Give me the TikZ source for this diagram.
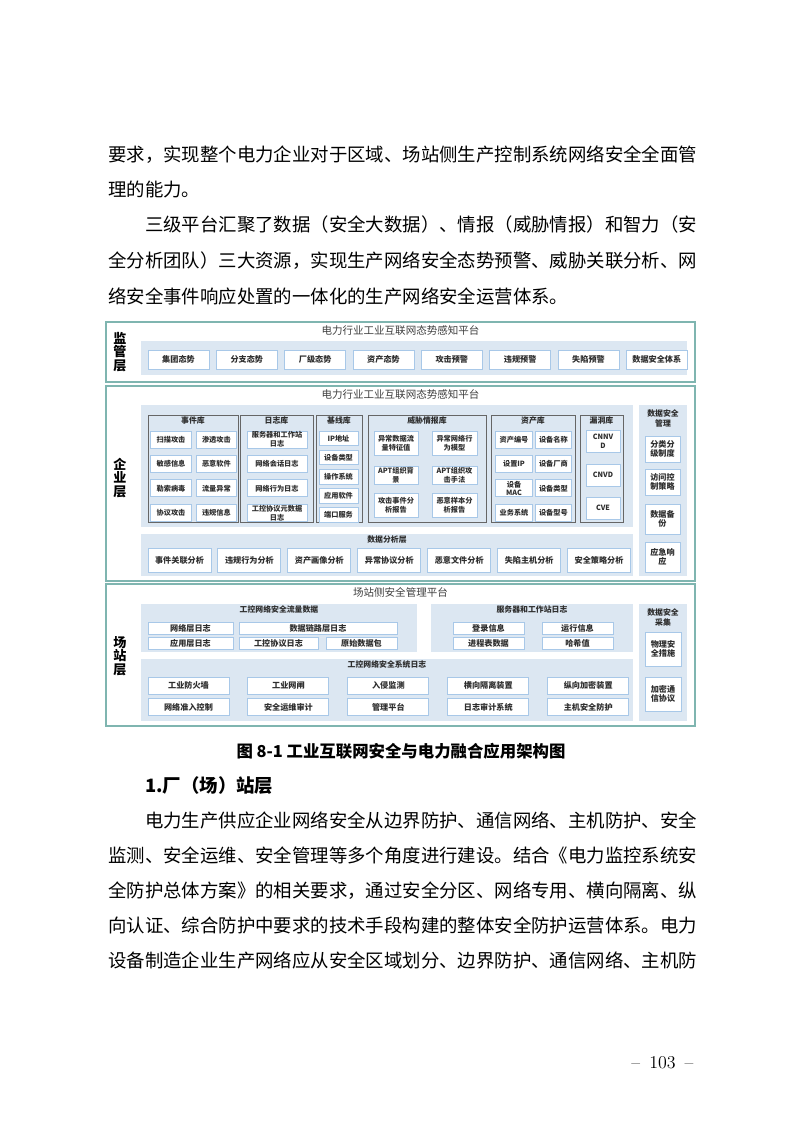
\documentclass[tikz,border=0pt]{standalone}
\usepackage{fontspec}
\newfontfamily\cjk{Noto Sans CJK SC}
\usepackage{xcolor}
\definecolor{panelteal}{HTML}{7FB5B0}
\definecolor{bandblue}{HTML}{DCE7F2}
\definecolor{itemblue}{HTML}{A8C8E8}
\definecolor{libgray}{HTML}{666666}
\definecolor{itemtext}{HTML}{2E2E2E}
\definecolor{titlegray}{HTML}{3F3F3F}
\usetikzlibrary{positioning}

\begin{document}
\begin{tikzpicture}[x=0.75pt,y=-0.75pt,
  sz/.style 2 args={minimum width=#1*0.75pt,minimum height=#2*0.75pt},
  panel/.style={draw=panelteal,line width=0.9pt,fill=white,inner sep=0pt},
  band/.style={fill=bandblue,inner sep=0pt},
  lib/.style={draw=libgray,line width=0.7pt,inner sep=0pt},
  itm/.style={draw=itemblue,line width=0.7pt,fill=white,inner sep=0pt,align=center,text=itemtext,
    font=\cjk\bfseries\fontsize{6.1pt}{7pt}\selectfont},
  sitm/.style={itm,font=\cjk\bfseries\fontsize{5.4pt}{6.6pt}\selectfont},
  ttl/.style={inner sep=0pt,text=titlegray,font=\cjk\fontsize{7.9pt}{9pt}\selectfont},
  sub/.style={inner sep=0pt,align=center,text=itemtext,font=\cjk\bfseries\fontsize{5.9pt}{7.6pt}\selectfont},
  side/.style={inner sep=0pt,align=center,text=black,font=\cjk\bfseries\fontsize{9.8pt}{10.2pt}\selectfont},
  para/.style={anchor=west,inner sep=0pt,text=black,font=\cjk\fontsize{13.8pt}{16pt}\selectfont}]
  \useasboundingbox[fill=white] (0,0) rectangle (793,1122);

  % text above the figure
  \node[para] (ln1) at (108,155) {要求，实现整个电力企业对于区域、场站侧生产控制系统网络安全全面管};
  \node[para] (ln2) at (108,190) {理的能力。};
  \node[para] (ln3) at (144.8,225) {三级平台汇聚了数据（安全大数据）、情报（威胁情报）和智力（安};
  \node[para] (ln4) at (108,261) {全分析团队）三大资源，实现生产网络安全态势预警、威胁关联分析、网};
  \node[para] (ln5) at (108,296) {络安全事件响应处置的一体化的生产网络安全运营体系。};

  % three layer panels
  \node[panel,sz={589}{60}] (jgp) at (400.5,352) {};
  \node[panel,sz={589}{195}] (qyp) at (400.5,483.5) {};
  \node[panel,sz={589}{142}] (czp) at (400.5,655) {};
  \node[ttl,below=3pt of jgp.north] (jgttl) {电力行业工业互联网态势感知平台};
  \node[ttl,below=3pt of qyp.north] (qyttl) {电力行业工业互联网态势感知平台};
  \node[ttl,below=3pt of czp.north] (czttl) {场站侧安全管理平台};
  \node[side] (jglbl) at (120,352) {监\\管\\层};
  \node[side] (qylbl) at (120,478) {企\\业\\层};
  \node[side] (czlbl) at (120,656) {场\\站\\层};

  % supervision layer
  \node[band,sz={546}{34}] (jgband) at (414,358) {};
  \node[itm,sz={61}{19}] (jg1) at (178.5,359.5) {集团态势};
  \node[itm,sz={61}{19},right=4.8pt of jg1] (jg2) {分支态势};
  \node[itm,sz={61}{19},right=4.8pt of jg2] (jg3) {厂级态势};
  \node[itm,sz={61}{19},right=4.8pt of jg3] (jg4) {资产态势};
  \node[itm,sz={61}{19},right=4.8pt of jg4] (jg5) {攻击预警};
  \node[itm,sz={61}{19},right=4.8pt of jg5] (jg6) {违规预警};
  \node[itm,sz={61}{19},right=4.8pt of jg6] (jg7) {失陷预警};
  \node[itm,sz={61}{19},right=4.8pt of jg7] (jg8) {数据安全体系};

  % enterprise layer: libraries
  \node[band,sz={492}{122}] (libband) at (387,466) {};
  \node[lib,sz={90}{107}] (evlib) at (193,468.5) {};
  \node[lib,sz={73}{107}] (loglib) at (276.5,468.5) {};
  \node[lib,sz={46}{107}] (baselib) at (339,468.5) {};
  \node[lib,sz={118}{107}] (thrlib) at (427,468.5) {};
  \node[lib,sz={84}{107}] (astlib) at (533,468.5) {};
  \node[lib,sz={43}{107}] (vullib) at (601.5,468.5) {};
  \node[sub,below=1.5pt of evlib.north] {事件库};
  \node[sub,below=1.5pt of loglib.north] {日志库};
  \node[sub,below=1.5pt of baselib.north] {基线库};
  \node[sub,below=1.5pt of thrlib.north] {威胁情报库};
  \node[sub,below=1.5pt of astlib.north] {资产库};
  \node[sub,below=1.5pt of vullib.north] {漏洞库};
  % event library
  \node[sitm,sz={40.5}{17}] (ev1) at (171,439.5) {扫描攻击};
  \node[sitm,sz={40.5}{17},right=3pt of ev1] (ev2) {渗透攻击};
  \node[sitm,sz={40.5}{17},below=4.9pt of ev1] (ev3) {敏感信息};
  \node[sitm,sz={40.5}{17},right=3pt of ev3] (ev4) {恶意软件};
  \node[sitm,sz={40.5}{17},below=4.9pt of ev3] (ev5) {勒索病毒};
  \node[sitm,sz={40.5}{17},right=3pt of ev5] (ev6) {流量异常};
  \node[sitm,sz={40.5}{17},below=4.9pt of ev5] (ev7) {协议攻击};
  \node[sitm,sz={40.5}{17},right=3pt of ev7] (ev8) {违规信息};
  % log library
  \node[sitm,sz={60}{17}] (lg1) at (277,439.5) {服务器和工作站\\日志};
  \node[sitm,sz={60}{17},below=4.9pt of lg1] (lg2) {网络会话日志};
  \node[sitm,sz={60}{17},below=4.9pt of lg2] (lg3) {网络行为日志};
  \node[sitm,sz={60}{17},below=4.9pt of lg3] (lg4) {工控协议元数据\\日志};
  % baseline library
  \node[sitm,sz={39}{14.5}] (bl1) at (338.5,438.5) {IP地址};
  \node[sitm,sz={39}{14.5},below=2.8pt of bl1] (bl2) {设备类型};
  \node[sitm,sz={39}{14.5},below=2.8pt of bl2] (bl3) {操作系统};
  \node[sitm,sz={39}{14.5},below=2.8pt of bl3] (bl4) {应用软件};
  \node[sitm,sz={39}{14.5},below=2.8pt of bl4] (bl5) {端口服务};
  % threat intelligence library
  \node[sitm,sz={44}{24}] (th1) at (396,443) {异常数据流\\量特征值};
  \node[sitm,sz={45}{24}] (th2) at (454.5,443) {异常网络行\\为模型};
  \node[sitm,sz={44}{18}] (th3) at (396,475) {APT组织背\\景};
  \node[sitm,sz={45}{18}] (th4) at (454.5,475) {APT组织攻\\击手法};
  \node[sitm,sz={44}{24}] (th5) at (396,505) {攻击事件分\\析报告};
  \node[sitm,sz={45}{24}] (th6) at (454.5,505) {恶意样本分\\析报告};
  % asset library
  \node[sitm,sz={36.5}{17}] (as1) at (514,439.5) {资产编号};
  \node[sitm,sz={36.5}{17},right=1.5pt of as1] (as2) {设备名称};
  \node[sitm,sz={36.5}{17},below=4.9pt of as1] (as3) {设置IP};
  \node[sitm,sz={36.5}{17},right=1.5pt of as3] (as4) {设备厂商};
  \node[sitm,sz={36.5}{17},below=4.9pt of as3] (as5) {设备\\MAC};
  \node[sitm,sz={36.5}{17},right=1.5pt of as5] (as6) {设备类型};
  \node[sitm,sz={36.5}{17},below=4.9pt of as5] (as7) {业务系统};
  \node[sitm,sz={36.5}{17},right=1.5pt of as7] (as8) {设备型号};
  % vulnerability library
  \node[sitm,sz={34}{22}] (vu1) at (603,441) {CNNV\\D};
  \node[sitm,sz={34}{22}] (vu2) at (603,475) {CNVD};
  \node[sitm,sz={34}{22}] (vu3) at (603,508) {CVE};

  % enterprise layer: analysis
  \node[band,sz={492}{42}] (anaband) at (387,555) {};
  \node[sub,below=1.5pt of anaband.north] (analbl) {数据分析层};
  \node[itm,sz={63}{24}] (an1) at (179.5,560) {事件关联分析};
  \node[itm,sz={63}{24},right=4.5pt of an1] (an2) {违规行为分析};
  \node[itm,sz={63}{24},right=4.5pt of an2] (an3) {资产画像分析};
  \node[itm,sz={63}{24},right=4.5pt of an3] (an4) {异常协议分析};
  \node[itm,sz={63}{24},right=4.5pt of an4] (an5) {恶意文件分析};
  \node[itm,sz={63}{24},right=4.5pt of an5] (an6) {失陷主机分析};
  \node[itm,sz={63}{24},right=4.5pt of an6] (an7) {安全策略分析};

  % enterprise layer: data security management
  \node[band,sz={48}{171}] (mgcol) at (663,490.5) {};
  \node[sub,below=3.5pt of mgcol.north] (mglbl) {数据安全\\管理};
  \node[itm,sz={35}{26}] (mg1) at (662.5,449) {分类分\\级制度};
  \node[itm,sz={35}{26}] (mg2) at (662.5,482) {访问控\\制策略};
  \node[itm,sz={35}{30}] (mg3) at (662.5,519) {数据备\\份};
  \node[itm,sz={35}{30}] (mg4) at (662.5,557) {应急响\\应};

  % station layer: traffic data
  \node[band,sz={276}{48}] (flband) at (279,628) {};
  \node[sub,below=1.5pt of flband.north] (fllbl) {工控网络安全流量数据};
  \node[itm,sz={85}{12}] (fl1) at (190.5,628) {网络层日志};
  \node[itm,sz={158}{12}] (fl2) at (318,628) {数据链路层日志};
  \node[itm,sz={85}{12}] (fl3) at (190.5,643) {应用层日志};
  \node[itm,sz={79}{12}] (fl4) at (278.5,643) {工控协议日志};
  \node[itm,sz={71}{12}] (fl5) at (361.5,643) {原始数据包};

  % station layer: host logs
  \node[band,sz={202}{48}] (svband) at (532,628) {};
  \node[sub,below=1.5pt of svband.north] (svlbl) {服务器和工作站日志};
  \node[itm,sz={71}{12}] (sv1) at (488.5,628) {登录信息};
  \node[itm,sz={71}{12}] (sv2) at (577.5,628) {运行信息};
  \node[itm,sz={71}{12}] (sv3) at (488.5,643) {进程表数据};
  \node[itm,sz={71}{12}] (sv4) at (577.5,643) {哈希值};

  % station layer: system logs
  \node[band,sz={492}{62}] (syband) at (387,690) {};
  \node[sub,below=1.5pt of syband.north] (sylbl) {工控网络安全系统日志};
  \node[itm,sz={81}{17}] (sy1) at (188.5,685.5) {工业防火墙};
  \node[itm,sz={81}{17},right=13.5pt of sy1] (sy2) {工业网闸};
  \node[itm,sz={81}{17},right=13.5pt of sy2] (sy3) {入侵监测};
  \node[itm,sz={81}{17},right=13.5pt of sy3] (sy4) {横向隔离装置};
  \node[itm,sz={81}{17},right=13.5pt of sy4] (sy5) {纵向加密装置};
  \node[itm,sz={81}{17},below=3pt of sy1] (sy6) {网络准入控制};
  \node[itm,sz={81}{17},below=3pt of sy2] (sy7) {安全运维审计};
  \node[itm,sz={81}{17},below=3pt of sy3] (sy8) {管理平台};
  \node[itm,sz={81}{17},below=3pt of sy4] (sy9) {日志审计系统};
  \node[itm,sz={81}{17},below=3pt of sy5] (sy10) {主机安全防护};

  % station layer: data security collection
  \node[band,sz={48}{117}] (clcol) at (663,662.5) {};
  \node[sub,below=3.5pt of clcol.north] (cllbl) {数据安全\\采集};
  \node[itm,sz={36}{34}] (cl1) at (663,649) {物理安\\全措施};
  \node[itm,sz={36}{34}] (cl2) at (663,694) {加密通\\信协议};

  % caption and text below
  \node[inner sep=0pt,font=\cjk\bfseries\fontsize{12.3pt}{14pt}\selectfont] (fig) at (401,751) {图 8-1 工业互联网安全与电力融合应用架构图};
  \node[para,font=\cjk\bfseries\fontsize{13.8pt}{16pt}\selectfont] (head) at (145,786) {1.厂（场）站层};
  \node[para] (pb1) at (144.8,820.5) {电力生产供应企业网络安全从边界防护、通信网络、主机防护、安全};
  \node[para] (pb2) at (108,855.5) {监测、安全运维、安全管理等多个角度进行建设。结合《电力监控系统安};
  \node[para] (pb3) at (108,890.5) {全防护总体方案》的相关要求，通过安全分区、网络专用、横向隔离、纵};
  \node[para] (pb4) at (108,925.5) {向认证、综合防护中要求的技术手段构建的整体安全防护运营体系。电力};
  \node[para] (pb5) at (108,960.5) {设备制造企业生产网络应从安全区域划分、边界防护、通信网络、主机防};
  \node[inner sep=0pt,font=\rmfamily\fontsize{13.5pt}{15pt}\selectfont] (pgno) at (662.5,1063) {--\enspace 103\enspace --};
\end{tikzpicture}
\end{document}
